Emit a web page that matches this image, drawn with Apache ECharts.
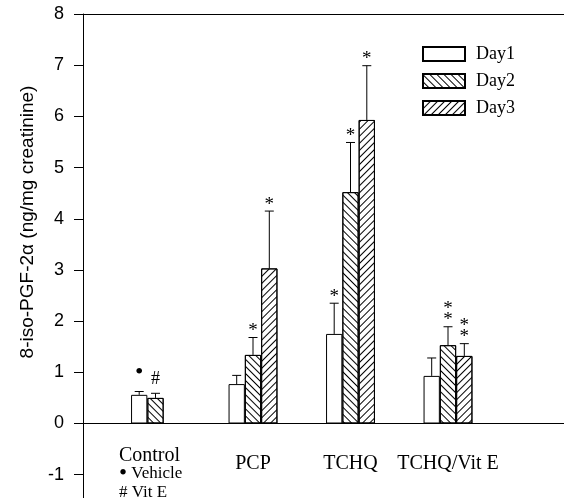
<!DOCTYPE html>
<html>
<head>
<meta charset="utf-8">
<script src="https://cdn.jsdelivr.net/npm/echarts@6/dist/echarts.min.js"></script>
<style>
html,body{margin:0;padding:0;background:#fff;}
#chart{width:564px;height:498px;}
</style>
</head>
<body>
<div id="chart"></div>
<script>
// ---- data ----
const categories = ['Control', 'PCP', 'TCHQ', 'TCHQ/Vit E'];
const seriesNames = ['Day1', 'Day2', 'Day3'];
const day1 = [0.56, 0.77, 1.75, 0.93];
const day1Err = [0.065, 0.17, 0.60, 0.35];
const day2 = [0.50, 1.34, 4.52, 1.53];
const day2Err = [0.09, 0.34, 0.97, 0.36];
const day3 = [null, 3.03, 5.93, 1.32];
const day3Err = [null, 1.12, 1.06, 0.24];
const day1Marks = ['\u2022', '', '*', ''];
const day2Marks = ['#', '*', '*', '*\n*'];
const day3Marks = ['', '*', '*', '*\n*'];
const yTicks = [-1, 0, 1, 2, 3, 4, 5, 6, 7, 8];
const yMin = -1.455, yMax = 8;

// ---- style ----
const SERIF = '"Liberation Serif", "Times New Roman", serif';
const SANS = '"Liberation Sans", Arial, sans-serif';
const BAR_W = 16.3;
const CAP = 4.5;
const markStyle = {
  '*': { lift: 1, size: 19 },
  '\u2022': { lift: 13, size: 24 },
  '#': { lift: 9, size: 18 }
};

const hatchDown = { symbol: 'rect', symbolSize: 1, dashArrayX: [1, 0], dashArrayY: [1, 4], rotation: Math.PI / 4, color: '#000' };
const hatchUp = { symbol: 'rect', symbolSize: 1, dashArrayX: [1, 0], dashArrayY: [1, 4], rotation: -Math.PI / 4, color: '#000' };
const decals = [null, hatchDown, hatchUp];

const dayVals = [day1, day2, day3];
const dayErrs = [day1Err, day2Err, day3Err];
const dayMarks = [day1Marks, day2Marks, day3Marks];

function barSeries(k) {
  const style = { color: '#fff', borderColor: '#000', borderWidth: 1 };
  if (decals[k]) style.decal = decals[k];
  return {
    type: 'bar', name: seriesNames[k],
    xAxisIndex: 0, yAxisIndex: 0,
    data: dayVals[k],
    barWidth: BAR_W, barGap: '0%',
    itemStyle: style,
    emphasis: { disabled: true },
    z: 2
  };
}

function errSeries(k) {
  const vals = dayVals[k], errs = dayErrs[k], marks = dayMarks[k];
  const data = [];
  vals.forEach((v, i) => { if (v != null) data.push([i, v, errs[i], i]); });
  return {
    type: 'custom', name: 'err' + seriesNames[k],
    xAxisIndex: 0, yAxisIndex: 0,
    encode: { x: 0, y: 1 },
    data: data,
    clip: false,
    z: 3,
    renderItem: function (params, api) {
      const x = api.value(0), v = api.value(1), e = api.value(2), idx = api.value(3);
      const b = api.coord([x, v]);
      const t = api.coord([x, v + e]);
      const cx = b[0] + (k - 1) * BAR_W;
      const mark = marks[idx] || '';
      const ms = markStyle[mark.charAt(0)] || { lift: 1, size: 19 };
      return {
        type: 'group',
        children: [
          { type: 'line', shape: { x1: cx, y1: b[1], x2: cx, y2: t[1] }, style: { stroke: '#000', lineWidth: 1 } },
          { type: 'line', shape: { x1: cx - CAP, y1: t[1], x2: cx + CAP, y2: t[1] }, style: { stroke: '#000', lineWidth: 1 } },
          { type: 'text', x: cx, y: t[1] - ms.lift, style: { text: mark, fontFamily: SERIF, fontSize: ms.size, fill: '#000', align: 'center', verticalAlign: 'bottom', lineHeight: 11 } }
        ]
      };
    }
  };
}

const chart = echarts.init(document.getElementById('chart'), null, { renderer: 'canvas' });
const option = {
  animation: false,
  backgroundColor: '#fff',
  grid: [
    // bars: from the top line down to the zero line
    { left: 106.75, right: 67.25, top: 14, bottom: 74.5, containLabel: false, outerBoundsMode: 'none' },
    // frame: full axis extent
    { left: 83, right: 0, top: 14, bottom: 0, containLabel: false, outerBoundsMode: 'none' }
  ],
  legend: {
    data: seriesNames,
    orient: 'vertical', left: 422, top: 45,
    icon: 'rect',
    itemWidth: 42, itemHeight: 14, itemGap: 9, padding: 0,
    textStyle: { fontFamily: SERIF, fontSize: 18, color: '#000', padding: [0, 0, 0, 6] },
    selectedMode: false
  },
  xAxis: [
    {
      gridIndex: 0, type: 'category', data: categories, position: 'bottom',
      axisLine: { show: false, onZero: false },
      axisTick: { show: false },
      splitLine: { show: false },
      axisLabel: {
        interval: 0,
        margin: 23,
        formatter: function (name) {
          if (name === 'Control') return '{c|Control}\n{d|\u2022}{s| Vehicle}\n{s|# Vit E}';
          return '{m|' + name + '}';
        },
        rich: {
          c: { fontFamily: SERIF, fontSize: 20, lineHeight: 18, color: '#000', align: 'left', padding: [0, 12, 0, 0] },
          d: { fontFamily: SERIF, fontSize: 23, lineHeight: 18.5, color: '#000', align: 'left' },
          s: { fontFamily: SERIF, fontSize: 17, lineHeight: 18.5, color: '#000', align: 'left' },
          m: { fontFamily: SERIF, fontSize: 20, lineHeight: 18, color: '#000', padding: [16, 0, 0, 0] }
        }
      }
    },
    {
      gridIndex: 1, type: 'value', min: 0, max: 1, position: 'bottom',
      axisLine: { show: true, onZero: true, lineStyle: { color: '#000', width: 1 } },
      axisTick: { show: false }, axisLabel: { show: false }, splitLine: { show: false }
    },
    {
      gridIndex: 1, type: 'value', min: 0, max: 1, position: 'top',
      axisLine: { show: true, onZero: false, lineStyle: { color: '#000', width: 1 } },
      axisTick: { show: false }, axisLabel: { show: false }, splitLine: { show: false }
    }
  ],
  yAxis: [
    {
      gridIndex: 0, type: 'value', min: 0, max: yMax, show: false,
      axisLine: { show: false, onZero: false }, axisTick: { show: false }, axisLabel: { show: false }, splitLine: { show: false }
    },
    {
      gridIndex: 1, type: 'value', min: yMin, max: yMax,
      name: '8-iso-PGF-2\u03b1 (ng/mg creatinine)',
      nameLocation: 'middle', nameGap: 36,
      nameTextStyle: { fontFamily: SANS, fontSize: 19, color: '#000', padding: [0, 0, 0, 68] },
      axisLine: { show: true, onZero: false, lineStyle: { color: '#000', width: 1 } },
      axisTick: { show: true, inside: false, length: 9, customValues: yTicks, lineStyle: { color: '#000' } },
      axisLabel: { customValues: yTicks, margin: 19, fontFamily: SANS, fontSize: 18, color: '#000' },
      splitLine: { show: false }
    }
  ],
  series: [barSeries(0), barSeries(1), barSeries(2), errSeries(0), errSeries(1), errSeries(2)]
};
chart.setOption(option);
</script>
</body>
</html>
